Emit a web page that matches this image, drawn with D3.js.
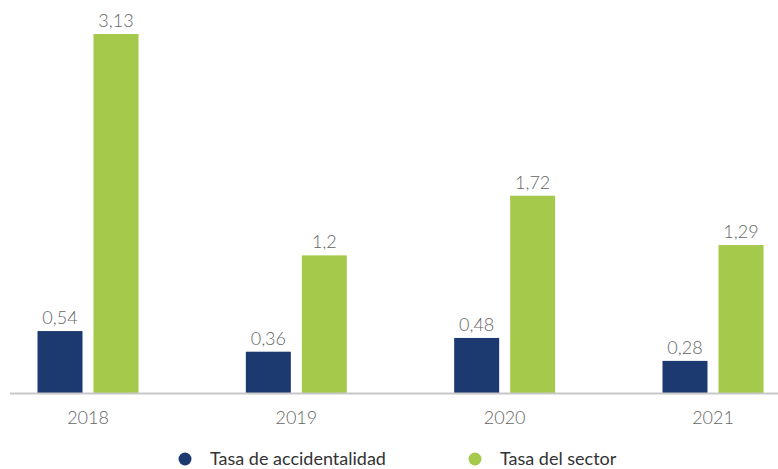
<!DOCTYPE html>
<html><head><meta charset="utf-8">
<script src="https://cdn.jsdelivr.net/npm/d3@7"></script>
<style>body{margin:0;background:#fff;}svg{display:block;font-family:Lato,"Open Sans",sans-serif;}</style>
</head><body>
<svg id="c" width="778" height="469"></svg>
<script>
const years = ["2018","2019","2020","2021"];
const tasaAccidentalidad = [0.54, 0.36, 0.48, 0.28];
const tasaSector = [3.13, 1.2, 1.72, 1.29];
const seriesNames = ["Tasa de accidentalidad","Tasa del sector"];
const colors = ["#1d3a70","#a5c94a"];

const svg = d3.select("#c");
const baseY = 393;
const x = d3.scalePoint().domain(years).range([87.5, 712.5]);
const y = d3.scaleLinear().domain([0, 3.13]).range([baseY, 34]);
const fmt = v => String(v).replace(".", ",");

const series = [tasaAccidentalidad, tasaSector];
const offsets = [-50, 6];
const bw = 45;

series.forEach((vals, si) => {
  const g = svg.append("g");
  g.selectAll("rect").data(vals).enter().append("rect")
    .attr("x", (d,i) => x(years[i]) + offsets[si])
    .attr("y", d => y(d))
    .attr("width", bw)
    .attr("height", d => baseY - y(d))
    .attr("fill", colors[si]);
  g.selectAll("text").data(vals).enter().append("text")
    .attr("x", (d,i) => x(years[i]) + offsets[si] + bw/2)
    .attr("y", d => y(d) - 7)
    .attr("text-anchor","middle")
    .attr("font-size", 18)
    .attr("font-weight", 300)
    .attr("fill", "#666")
    .text(d => fmt(d));
});

svg.append("line").attr("x1", 10).attr("x2", 778).attr("y1", baseY + 0.5).attr("y2", baseY + 0.5)
  .attr("stroke", "#c8c8c8").attr("stroke-width", 2);

const axis = d3.axisBottom(x).tickSize(0).tickPadding(17);
const ag = svg.append("g").attr("transform", `translate(0,${baseY + 1})`).call(axis);
ag.select(".domain").remove();
ag.selectAll("text").attr("font-size", 18).attr("font-weight", 300).attr("fill", "#666").attr("font-family","Lato,sans-serif");

const legX = [185, 475];
seriesNames.forEach((n, i) => {
  svg.append("circle").attr("cx", legX[i]).attr("cy", 459).attr("r", 6.5).attr("fill", colors[i]);
  svg.append("text").attr("x", legX[i] + 25).attr("y", 465).attr("font-size", 18).attr("fill", "#333").text(n);
});
</script>
</body></html>
